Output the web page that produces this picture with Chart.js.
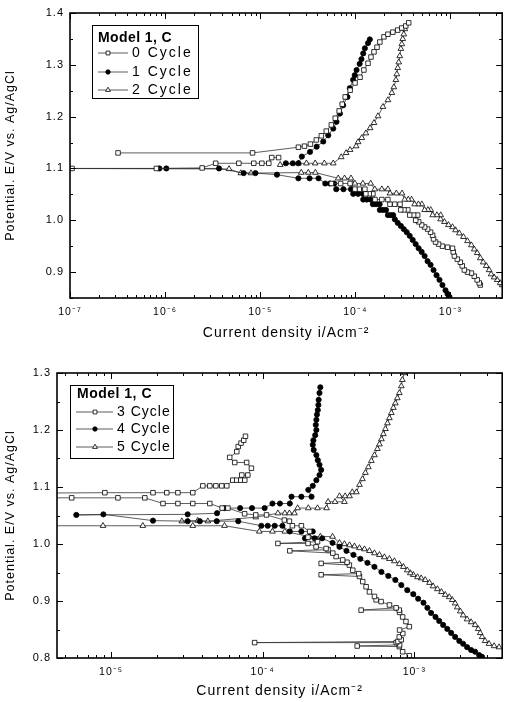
<!DOCTYPE html>
<html>
<head>
<meta charset="utf-8">
<script src="https://cdn.jsdelivr.net/npm/chart.js@4.4.1/dist/chart.umd.min.js"></script>
<style>
  body { margin: 0; background: #fff; }
  canvas { display: block; }
</style>
</head>
<body>
<canvas id="topChart" width="507" height="350"></canvas>
<canvas id="bottomChart" width="507" height="352"></canvas>
<script>
// [current density A/cm2, potential V]; null breaks the line
const cycle0 = [
  [2.06e-3,0.875],[2.01e-3,0.879],[1.91e-3,0.885],[1.78e-3,0.892],[1.66e-3,0.898],[1.51e-3,0.900],[1.40e-3,0.904],
  [1.33e-3,0.912],[1.27e-3,0.919],[1.18e-3,0.925],[1.10e-3,0.931],[1.07e-3,0.939],[1.05e-3,0.946],[9.31e-4,0.948],
  [8.24e-4,0.950],[7.50e-4,0.954],[6.97e-4,0.958],[6.64e-4,0.964],[6.49e-4,0.971],[6.18e-4,0.977],[5.75e-4,0.983],
  [5.35e-4,0.987],[4.98e-4,0.991],[4.63e-4,0.997],[4.31e-4,1.000],
  [4.52e-4,1.010],[4.10e-4,1.010],[3.73e-4,1.010],[3.56e-4,1.020],[3.25e-4,1.020],[3.00e-4,1.020],[2.95e-4,1.031],
  [2.60e-4,1.031],[2.31e-4,1.031],[2.20e-4,1.040],[1.90e-4,1.040],[1.61e-4,1.040],[1.53e-4,1.051],[1.40e-4,1.051],
  [1.29e-4,1.051],[1.26e-4,1.060],[1.10e-4,1.060],[9.9e-5,1.060],[8.8e-5,1.071],[7.0e-5,1.071],[5.6e-5,1.071],
  null,
  [5e-8,1.100],[1.05e-7,1.100],[8.1e-7,1.100],[2.45e-6,1.101],[3.4e-6,1.110],[5.96e-6,1.110],[8.55e-6,1.110],
  [1.04e-5,1.110],[1.23e-5,1.110],[1.32e-5,1.121],[1.56e-5,1.121],
  null,
  [3.2e-7,1.130],[8.3e-6,1.130],[2.52e-5,1.141],[2.92e-5,1.143],[3.37e-5,1.147],[3.89e-5,1.155],[4.39e-5,1.163],
  [4.95e-5,1.172],[5.59e-5,1.184],[6.15e-5,1.197],[6.76e-5,1.211],[7.28e-5,1.224],[7.82e-5,1.238],[8.81e-5,1.251],
  [9.93e-5,1.265],[1.12e-4,1.276],[1.23e-4,1.290],[1.36e-4,1.303],[1.46e-4,1.315],[1.57e-4,1.325],[1.69e-4,1.334],
  [1.81e-4,1.344],[2.00e-4,1.354],[2.20e-4,1.359],[2.48e-4,1.363],[2.79e-4,1.367],[3.08e-4,1.371],[3.39e-4,1.375],
  [3.64e-4,1.381]
];
const cycle1 = [
  [9.77e-4,0.852],[9.31e-4,0.858],[8.87e-4,0.865],[8.24e-4,0.875],[7.67e-4,0.885],[7.14e-4,0.894],[6.64e-4,0.904],
  [6.18e-4,0.914],[5.75e-4,0.921],[5.35e-4,0.931],[4.98e-4,0.939],[4.63e-4,0.946],[4.31e-4,0.954],[4.01e-4,0.962],
  [3.73e-4,0.970],[3.47e-4,0.977],[3.23e-4,0.983],[3.01e-4,0.989],[2.79e-4,0.995],[2.60e-4,1.002],
  [2.50e-4,1.010],[2.35e-4,1.010],[2.20e-4,1.010],[2.10e-4,1.020],[1.95e-4,1.020],[1.81e-4,1.020],[1.80e-4,1.031],
  [1.65e-4,1.031],[1.53e-4,1.031],[1.45e-4,1.040],[1.32e-4,1.040],[1.21e-4,1.040],[1.20e-4,1.051],[1.07e-4,1.051],
  [9.5e-5,1.051],[9.0e-5,1.060],[7.5e-5,1.060],[6.3e-5,1.060],[6.0e-5,1.071],[5.4e-5,1.071],[4.83e-5,1.071],
  [4.1e-5,1.081],[3.3e-5,1.081],[2.52e-5,1.081],[1.5e-5,1.088],[8.9e-6,1.091],[6.7e-6,1.091],[3.69e-6,1.100],
  [1.03e-6,1.100],[8.7e-7,1.100],[5e-8,1.100],
  null,
  [1.86e-5,1.110],[2.2e-5,1.110],[2.52e-5,1.110],[2.74e-5,1.123],[3.34e-5,1.132],[3.92e-5,1.142],[4.6e-5,1.152],
  [5.19e-5,1.164],[5.86e-5,1.177],[6.34e-5,1.190],[6.89e-5,1.206],[7.45e-5,1.222],[8.26e-5,1.238],[8.75e-5,1.255],
  [9.48e-5,1.271],[9.86e-5,1.280],[1.03e-4,1.290],[1.11e-4,1.302],[1.16e-4,1.311],[1.21e-4,1.322],[1.26e-4,1.332],
  [1.36e-4,1.342],[1.42e-4,1.349]
];
const cycle2 = [
  [3.49e-3,0.875],[3.33e-3,0.879],[3.10e-3,0.885],[2.88e-3,0.890],[2.68e-3,0.896],[2.55e-3,0.904],[2.38e-3,0.912],
  [2.21e-3,0.919],[2.06e-3,0.927],[1.91e-3,0.937],[1.78e-3,0.944],[1.66e-3,0.952],[1.51e-3,0.960],[1.37e-3,0.968],
  [1.24e-3,0.975],[1.13e-3,0.981],[1.05e-3,0.987],[9.53e-4,0.991],[8.65e-4,0.997],[7.88e-4,1.002],
  [7.9e-4,1.010],[7.2e-4,1.010],[6.5e-4,1.010],[6.2e-4,1.020],[5.8e-4,1.020],[5.35e-4,1.020],[5.0e-4,1.031],
  [4.6e-4,1.031],[4.2e-4,1.031],[3.9e-4,1.040],[3.6e-4,1.040],[3.3e-4,1.040],[3.1e-4,1.052],[2.7e-4,1.052],
  [2.31e-4,1.052],[2.2e-4,1.060],[1.9e-4,1.060],[1.6e-4,1.060],[1.45e-4,1.071],[1.2e-4,1.071],[9.9e-5,1.071],
  [9.0e-5,1.081],[7.7e-5,1.081],[6.6e-5,1.081],[3.8e-5,1.092],[3.2e-5,1.092],[2.7e-5,1.092],[8.0e-6,1.091],
  [6.25e-6,1.091],[4.7e-6,1.099],[5e-8,1.100],
  null,
  [1.62e-5,1.107],[2.52e-5,1.110],[3.06e-5,1.110],[3.78e-5,1.110],[4.72e-5,1.110],[5.86e-5,1.110],[7.1e-5,1.122],
  [8.0e-5,1.130],[8.81e-5,1.136],[1.02e-4,1.143],[1.07e-4,1.151],[1.17e-4,1.159],[1.29e-4,1.168],[1.43e-4,1.178],
  [1.57e-4,1.188],[1.73e-4,1.201],[1.95e-4,1.219],[2.2e-4,1.232],[2.42e-4,1.246],[2.54e-4,1.257],[2.67e-4,1.271],
  [2.73e-4,1.282],[2.79e-4,1.294],[2.86e-4,1.305],[2.93e-4,1.317],[3.01e-4,1.331],[3.08e-4,1.340],[3.15e-4,1.350],
  [3.23e-4,1.359],[3.31e-4,1.369]
];
const cycle3 = [
  [9.27e-4,0.804],[8.38e-4,0.811],[7.96e-4,0.820],[4.2e-4,0.821],[8.0e-4,0.823],[7.6e-4,0.827],[8.85e-5,0.827],
  [7.8e-4,0.829],[8.2e-4,0.832],[7.96e-4,0.837],[8.4e-4,0.843],[8.0e-4,0.849],[9.27e-4,0.855],[8.81e-4,0.864],
  [8.38e-4,0.872],[8.0e-4,0.880],[7.96e-4,0.884],[4.46e-4,0.884],[7.59e-4,0.888],[6.86e-4,0.893],[6.04e-4,0.899],
  [5.6e-4,0.902],[5.46e-4,0.908],[5.06e-4,0.916],[4.81e-4,0.925],[4.57e-4,0.934],[4.35e-4,0.943],[2.43e-4,0.946],
  [4.3e-4,0.948],[3.93e-4,0.954],[3.73e-4,0.963],[2.43e-4,0.966],[3.6e-4,0.968],[3.37e-4,0.972],[3.05e-4,0.978],
  [2.9e-4,0.984],[1.51e-4,0.988],[2.7e-4,0.990],[2.62e-4,0.992],[2.25e-4,0.995],[1.99e-4,1.001],[1.26e-4,1.001],
  [2.3e-4,1.004],[1.99e-4,1.012],[2.04e-4,1.022],[1.8e-4,1.032],[1.57e-4,1.032],[1.5e-4,1.040],[1.39e-4,1.042],
  [1.06e-4,1.051],[9.0e-5,1.051],[7.6e-5,1.053],[5.9e-5,1.063],[5.4e-5,1.063],[4.48e-5,1.071],[3.46e-5,1.071],
  [2.76e-5,1.071],[2.2e-5,1.071],[1.67e-5,1.081],[1.11e-5,1.081],[5.5e-6,1.081],[2e-6,1.081],
  [2e-6,1.089],[9.1e-6,1.090],[1.89e-5,1.090],[2.33e-5,1.090],[2.76e-5,1.090],[3.46e-5,1.090],[4.03e-5,1.102],
  [4.48e-5,1.102],[4.91e-5,1.102],[5.37e-5,1.102],[5.8e-5,1.102],[6.35e-5,1.112],[6.75e-5,1.112],[7.17e-5,1.112],
  [7.62e-5,1.112],[7.28e-5,1.121],[7.98e-5,1.121],[8.43e-5,1.133],[7.84e-5,1.143],[6.54e-5,1.143],[6.06e-5,1.152],
  [6.75e-5,1.162],[6.9e-5,1.171],[7.2e-5,1.177],[7.5e-5,1.182],[7.7e-5,1.189]
];
const cycle4 = [
  [2.80e-3,0.802],[2.68e-3,0.805],[2.52e-3,0.811],[2.37e-3,0.814],[2.23e-3,0.819],[2.10e-3,0.825],[1.98e-3,0.830],
  [1.86e-3,0.837],[1.75e-3,0.844],[1.65e-3,0.851],[1.55e-3,0.858],[1.46e-3,0.865],[1.38e-3,0.872],[1.29e-3,0.879],
  [1.22e-3,0.888],[1.15e-3,0.897],[1.06e-3,0.904],[9.85e-4,0.912],[8.99e-4,0.919],[8.21e-4,0.928],[7.50e-4,0.937],
  [6.74e-4,0.944],[6.07e-4,0.951],[5.46e-4,0.960],[4.91e-4,0.967],[4.41e-4,0.974],[3.97e-4,0.981],[3.57e-4,0.988],
  [3.21e-4,0.995],[2.89e-4,1.002],
  [2.47e-4,1.010],[2.2e-4,1.010],[1.9e-4,1.010],[2.14e-4,1.022],[1.8e-4,1.022],[1.51e-4,1.022],[1.35e-4,1.032],
  [1.2e-4,1.032],[1.08e-4,1.032],[9.8e-5,1.032],[6.9e-5,1.040],[4.98e-5,1.040],[3.85e-5,1.040],[3.2e-5,1.040],
  [1.89e-5,1.041],[8.9e-6,1.052],[5.9e-6,1.051],
  [3.2e-5,1.052],[5.0e-5,1.054],[5.6e-5,1.063],[7.1e-5,1.063],[8.5e-5,1.063],[1.03e-4,1.063],[1.16e-4,1.071],
  [1.3e-4,1.071],[1.51e-4,1.071],[1.55e-4,1.083],[1.8e-4,1.083],[2.1e-4,1.083],[2.0e-4,1.095],[2.14e-4,1.102],
  [2.26e-4,1.112],[2.37e-4,1.121],[2.43e-4,1.130],[2.37e-4,1.139],[2.31e-4,1.147],[2.26e-4,1.156],[2.17e-4,1.165],
  [2.14e-4,1.174],[2.16e-4,1.182],[2.22e-4,1.191],[2.26e-4,1.200],[2.24e-4,1.209],[2.26e-4,1.218],[2.28e-4,1.227],
  [2.31e-4,1.235],[2.33e-4,1.244],[2.34e-4,1.253],[2.37e-4,1.265],[2.4e-4,1.275]
];
const cycle5 = [
  [3.62e-3,0.819],[3.36e-3,0.821],[3.11e-3,0.825],[2.93e-3,0.830],[2.80e-3,0.837],[2.72e-3,0.844],[2.64e-3,0.851],
  [2.52e-3,0.858],[2.37e-3,0.863],[2.23e-3,0.868],[2.10e-3,0.875],[2.01e-3,0.882],[1.92e-3,0.889],[1.86e-3,0.896],
  [1.78e-3,0.902],[1.70e-3,0.907],[1.60e-3,0.911],[1.51e-3,0.916],[1.42e-3,0.921],[1.33e-3,0.926],[1.26e-3,0.932],
  [1.18e-3,0.937],[1.11e-3,0.940],[1.05e-3,0.942],[9.85e-4,0.946],[9.41e-4,0.949],[8.99e-4,0.954],[8.47e-4,0.960],
  [7.97e-4,0.965],[7.39e-4,0.970],[6.85e-4,0.974],[6.35e-4,0.977],[5.89e-4,0.981],[5.46e-4,0.984],[5.06e-4,0.988],
  [4.69e-4,0.991],[4.35e-4,0.993],[4.03e-4,0.996],[3.74e-4,0.998],[3.46e-4,1.000],[3.21e-4,1.002],
  [2.89e-4,1.013],[2.4e-4,1.013],[2.04e-4,1.013],[1.4e-4,1.022],[1.16e-4,1.022],[9.5e-5,1.022],[5.6e-5,1.032],
  [3.46e-5,1.032],[1.62e-5,1.032],[8.85e-6,1.032],[2e-6,1.032],
  null,
  [2.93e-5,1.040],[3.73e-5,1.041],[4.35e-5,1.040],[9.0e-5,1.047],[1.26e-4,1.054],[1.4e-4,1.054],[1.5e-4,1.054],
  [1.62e-4,1.054],[1.7e-4,1.063],[2.0e-4,1.063],[2.3e-4,1.063],[2.64e-4,1.063],[2.7e-4,1.074],[3.0e-4,1.074],
  [3.46e-4,1.074],[3.21e-4,1.084],[3.5e-4,1.084],[3.74e-4,1.084],[3.9e-4,1.091],[4.15e-4,1.091],
  [4.35e-4,1.104],[4.55e-4,1.114],[4.76e-4,1.125],[4.98e-4,1.135],[5.21e-4,1.146],[5.46e-4,1.156],[5.71e-4,1.167],
  [5.89e-4,1.175],[6.07e-4,1.184],[6.25e-4,1.193],[6.45e-4,1.202],[6.65e-4,1.212],[6.85e-4,1.221],[7.06e-4,1.230],
  [7.28e-4,1.239],[7.50e-4,1.247],[7.73e-4,1.256],[7.97e-4,1.265],[8.21e-4,1.277],[8.34e-4,1.288],[8.60e-4,1.300]
];

const topXTicks = [1e-7, 1e-6, 1e-5, 1e-4, 1e-3];
const topYTicks = [0.9, 1.0, 1.1, 1.2, 1.3, 1.4];
const bottomXTicks = [1e-5, 1e-4, 1e-3];
const bottomYTicks = [0.8, 0.9, 1.0, 1.1, 1.2, 1.3];

const FONT = '"Liberation Sans", Arial, Helvetica, sans-serif';
Chart.defaults.font.family = FONT;
Chart.defaults.color = '#000';

const squareStyle = { pointStyle: 'rect', pointRadius: 3.2, pointBackgroundColor: '#fff', pointBorderColor: '#000', pointBorderWidth: 0.8 };
const circleStyle = { pointStyle: 'circle', pointRadius: 2.6, pointBackgroundColor: '#000', pointBorderColor: '#000', pointBorderWidth: 0.8 };
const triangleStyle = { pointStyle: 'triangle', pointRadius: 3.3, pointBackgroundColor: '#fff', pointBorderColor: '#000', pointBorderWidth: 0.8 };

function series(label, pts, style) {
  return Object.assign({
    label: label,
    data: pts.map(p => p ? { x: p[0], y: p[1] } : { x: null, y: null }),
    showLine: true,
    spanGaps: false,
    borderColor: '#333',
    borderWidth: 0.8,
    tension: 0
  }, style);
}

const SUP = { '0': '⁰', '1': '¹', '2': '²', '3': '³', '4': '⁴', '5': '⁵', '6': '⁶', '7': '⁷', '8': '⁸', '9': '⁹', '-': '⁻' };
function powLabel(v) {
  const e = Math.round(Math.log10(v));
  return '10' + String(e).split('').map(c => SUP[c]).join('');
}

// the scanned figure uses loosely spaced lettering
const spacing = {
  id: 'spacing',
  beforeUpdate(chart) { chart.ctx.letterSpacing = '1px'; },
  beforeDraw(chart) { chart.ctx.letterSpacing = '1px'; }
};

// box frame with inward ticks on all four sides
const framePlugin = {
  id: 'frame',
  afterDatasetsDraw(chart) {
    const { ctx, chartArea: a, scales: { x, y } } = chart;
    ctx.save();
    ctx.strokeStyle = '#000';
    ctx.lineWidth = 1;
    ctx.beginPath();
    for (let e = Math.floor(Math.log10(x.min)); e <= Math.ceil(Math.log10(x.max)); e++) {
      for (let m = 1; m < 10; m++) {
        const v = m * Math.pow(10, e);
        if (v < x.min || v > x.max) continue;
        const px = Math.round(x.getPixelForValue(v)) + 0.5;
        const len = m === 1 ? 6 : 3;
        ctx.moveTo(px, a.bottom); ctx.lineTo(px, a.bottom - len);
        ctx.moveTo(px, a.top); ctx.lineTo(px, a.top + len);
      }
    }
    for (let k = Math.ceil(y.min / 0.05 - 1e-6); k * 0.05 <= y.max + 1e-6; k++) {
      const py = Math.round(y.getPixelForValue(k * 0.05)) + 0.5;
      const len = k % 2 === 0 ? 6 : 3;
      ctx.moveTo(a.left, py); ctx.lineTo(a.left + len, py);
      ctx.moveTo(a.right, py); ctx.lineTo(a.right - len, py);
    }
    ctx.stroke();
    ctx.lineWidth = 1.6;
    ctx.strokeRect(a.left, a.top, a.right - a.left, a.bottom - a.top);
    ctx.restore();
  }
};

// boxed legend with line + marker samples
const boxLegend = {
  id: 'boxLegend',
  afterDraw(chart, args, o) {
    const ctx = chart.ctx;
    ctx.save();
    ctx.fillStyle = '#fff';
    ctx.fillRect(o.left, o.top, o.width, o.height);
    ctx.strokeStyle = '#000';
    ctx.lineWidth = 1;
    ctx.strokeRect(o.left + 0.5, o.top + 0.5, o.width, o.height);
    ctx.textBaseline = 'middle';
    ctx.fillStyle = '#000';
    ctx.letterSpacing = o.titleSpacing;
    ctx.font = 'bold 14px ' + FONT;
    ctx.fillText(o.title, o.titleX, o.top + o.titleDy);
    ctx.letterSpacing = o.textSpacing;
    ctx.font = '14px ' + FONT;
    chart.data.datasets.forEach((ds, i) => {
      const y = o.top + o.rowDy[i];
      ctx.strokeStyle = '#333';
      ctx.lineWidth = 0.8;
      ctx.beginPath();
      ctx.moveTo(o.lineX1, y); ctx.lineTo(o.lineX2, y);
      ctx.stroke();
      ctx.fillStyle = ds.pointBackgroundColor;
      ctx.strokeStyle = ds.pointBorderColor;
      ctx.lineWidth = ds.pointBorderWidth;
      Chart.helpers.drawPoint(ctx, { pointStyle: ds.pointStyle, radius: ds.pointRadius * 0.85, borderWidth: ds.pointBorderWidth, rotation: 0 }, o.markerX, y);
      ctx.fillStyle = '#000';
      ctx.fillText(ds.label, o.textX, y);
    });
    ctx.restore();
  }
};

function makeChart(id, datasets, cfg) {
  return new Chart(document.getElementById(id), {
    type: 'scatter',
    data: { datasets: datasets },
    plugins: [spacing, framePlugin, boxLegend],
    options: {
      responsive: false,
      animation: false,
      layout: { padding: cfg.padding },
      plugins: {
        legend: { display: false },
        tooltip: { enabled: false },
        boxLegend: cfg.legend
      },
      scales: {
        x: {
          type: 'logarithmic',
          min: cfg.xMin,
          max: cfg.xMax,
          afterFit: s => { s.height = cfg.xHeight; },
          afterBuildTicks: s => { s.ticks = cfg.xTicks.map(v => ({ value: v })); },
          grid: { display: false, drawTicks: false },
          border: { display: false },
          ticks: { autoSkip: false, maxRotation: 0, padding: cfg.xTickPad, font: { size: 10.5 }, callback: v => powLabel(v) },
          title: { display: true, text: 'Current density i/Acm⁻²', font: { size: 14 }, padding: { top: 0, bottom: cfg.xTitlePad } }
        },
        y: {
          type: 'linear',
          min: cfg.yMin,
          max: cfg.yMax,
          afterFit: s => { s.width = cfg.yWidth; },
          afterBuildTicks: s => { s.ticks = cfg.yTicks.map(v => ({ value: v })); },
          grid: { display: false, drawTicks: false },
          border: { display: false },
          ticks: { padding: 6, font: { size: 11 }, callback: v => v.toFixed(1) },
          title: { display: true, text: 'Potential. E/V vs. Ag/AgCl', font: { size: 12.5 }, padding: { top: 3, bottom: 0 } }
        }
      }
    }
  });
}

makeChart('topChart', [
  series('0 Cycle', cycle0, squareStyle),
  series('1 Cycle', cycle1, circleStyle),
  series('2 Cycle', cycle2, triangleStyle)
], {
  padding: { left: 0, right: 1, top: 13, bottom: 0 },
  xMin: 1e-7, xMax: 3.5e-3, xTicks: topXTicks, xHeight: 52, xTickPad: 8, xTitlePad: 8,
  yMin: 0.85, yMax: 1.4, yTicks: topYTicks, yWidth: 70,
  legend: { left: 92, top: 25, width: 106, height: 73, title: 'Model 1, C', titleX: 98, titleDy: 13,
            rowDy: [28, 47, 65], lineX1: 98, lineX2: 128, markerX: 108, textX: 132,
            titleSpacing: '0.4px', textSpacing: '2px' }
});

makeChart('bottomChart', [
  series('3 Cycle', cycle3, squareStyle),
  series('4 Cycle', cycle4, circleStyle),
  series('5 Cycle', cycle5, triangleStyle)
], {
  padding: { left: 0, right: 3, top: 23, bottom: 0 },
  xMin: 4.4e-6, xMax: 3.8e-3, xTicks: bottomXTicks, xHeight: 44, xTickPad: 8, xTitlePad: 2,
  yMin: 0.8, yMax: 1.3, yTicks: bottomYTicks, yWidth: 57,
  legend: { left: 70, top: 35, width: 103, height: 73, title: 'Model 1, C', titleX: 77, titleDy: 9,
            rowDy: [27, 44, 62], lineX1: 76, lineX2: 113, markerX: 95, textX: 117,
            titleSpacing: '0.5px', textSpacing: '1px' }
});
</script>
</body>
</html>
